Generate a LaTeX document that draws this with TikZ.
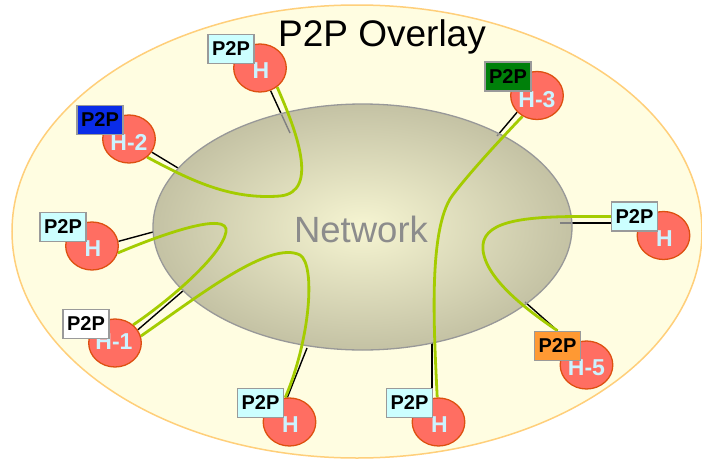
\documentclass[tikz,border=0pt]{standalone}
\usepackage{fontspec}
\setmainfont{Liberation Sans}
\usetikzlibrary{shapes.geometric,calc}
\definecolor{outerfill}{HTML}{FFFDE1}
\definecolor{outerline}{HTML}{FFCF7A}
\definecolor{netin}{HTML}{F6F5D2}
\definecolor{netout}{HTML}{C4C2A4}
\definecolor{netline}{HTML}{989898}
\definecolor{nettext}{HTML}{8C8C8C}
\definecolor{netgreen}{HTML}{A4CC00}
\definecolor{hostfill}{HTML}{FF6E62}
\definecolor{hostline}{HTML}{DD5010}
\definecolor{hosttext}{HTML}{CCF3FF}
\definecolor{boxcyan}{HTML}{CCFFFF}
\definecolor{boxblue}{HTML}{0A2CE8}
\definecolor{boxgreen}{HTML}{00800A}
\definecolor{boxorange}{HTML}{FF9933}
\definecolor{boxline}{HTML}{9A9A9A}
\pgfdeclarelayer{bg}
\pgfdeclarelayer{wires}
\pgfdeclarelayer{net}
\pgfdeclarelayer{links}
\pgfsetlayers{bg,wires,net,links,main}
\tikzset{
  host/.style={ellipse, draw=hostline, line width=1.3pt, fill=hostfill,
    minimum width=52.6pt, minimum height=48pt, inner sep=0pt},
  hlabel/.style={text=hosttext, font=\bfseries\fontsize{23}{25}\selectfont, inner sep=0pt},
  pbox/.style={draw=boxline, line width=1.5pt, minimum width=46pt,
    minimum height=29pt, inner sep=0pt, font=\bfseries\fontsize{20}{22}\selectfont},
  wire/.style={line width=1.4pt, black},
  innerwire/.style={line width=1.4pt, gray},
  link/.style={line width=2.8pt, netgreen}
}
\begin{document}
\begin{tikzpicture}[x=1pt,y=-1pt]
\useasboundingbox (0,0) rectangle (702,461);
\begin{pgfonlayer}{bg}
\fill[white] (0,0) rectangle (702,461);
\draw[fill=outerfill, draw=outerline, line width=1.5pt] (357,231.5) ellipse [x radius=345, y radius=226.5];
\end{pgfonlayer}
\node[font=\fontsize{37}{40}\selectfont, anchor=base] (title) at (382,46) {P2P Overlay};
% hosts
\node[host] (hT) at (260,68) {};
\node[host] (h2) at (129,139) {};
\node[host] (h3) at (537,95.5) {};
\node[host] (hL) at (92,246) {};
\node[host] (h1) at (115,343) {};
\node[host] (hR) at (663.5,235.5) {};
\node[host] (h5) at (586.5,365) {};
\node[host] (hBL) at (289.5,422) {};
\node[host] (hBR) at (438.5,422) {};
\node[hlabel] (lT) at ($(hT)+(1,3)$) {H};
\node[hlabel] (l2) at ($(h2)+(0,3)$) {H-2};
\node[hlabel] (l3) at ($(h3)+(0,4)$) {H-3};
\node[hlabel] (lL) at ($(hL)+(1,3)$) {H};
\node[hlabel] (l1) at ($(h1)+(-1,-1)$) {H-1};
\node[hlabel] (lR) at ($(hR)+(1,3)$) {H};
\node[hlabel] (l5) at ($(h5)+(0,3)$) {H-5};
\node[hlabel] (lBL) at ($(hBL)+(1,3)$) {H};
\node[hlabel] (lBR) at ($(hBR)+(1,3)$) {H};
% P2P boxes
\node[pbox, fill=boxcyan] (bT) at (231,49) {P2P};
\node[pbox, fill=boxblue] (b2) at (100,120) {P2P};
\node[pbox, fill=boxgreen] (b3) at (508,76.5) {P2P};
\node[pbox, fill=boxcyan] (bL) at (63,227) {P2P};
\node[pbox, fill=white] (b1) at (86,324) {P2P};
\node[pbox, fill=boxcyan] (bR) at (634.5,216.5) {P2P};
\node[pbox, fill=boxorange] (b5) at (557.5,346) {P2P};
\node[pbox, fill=boxcyan] (bBL) at (260.5,403) {P2P};
\node[pbox, fill=boxcyan] (bBR) at (409.5,403) {P2P};
% network end points
\coordinate (nT) at (290,133);
\coordinate (n2) at (178,168);
\coordinate (n3) at (497,136);
\coordinate (nL) at (153,232);
\coordinate (n1) at (184,290);
\coordinate (nR) at (560,223);
\coordinate (n5) at (525,302);
\coordinate (nBL) at (307,348);
\coordinate (nBR) at (432,343);
\begin{pgfonlayer}{wires}
\draw[wire] (hT.-65) -- (nT);
\draw[wire] (h2.-30) -- (n2);
\draw[wire] (h3.-140) -- (n3);
\draw[wire] (hL.10) -- (nL);
\draw[wire] (h1.30) -- (n1);
\draw[wire] (nR -| bR.west) -- (nR);
\draw[wire] (b5.north) -- (n5);
\draw[wire] (hBL.95) -- (nBL);
\draw[wire] (nBR |- bBR.north) -- (nBR);
\end{pgfonlayer}
\begin{pgfonlayer}{net}
\shade[inner color=netin, outer color=netout] (362.5,227) ellipse [x radius=209.5, y radius=123];
\draw[netline, line width=1.3pt] (362.5,227) ellipse [x radius=209.5, y radius=123];
\begin{scope}
\clip (362.5,227) ellipse [x radius=208.5, y radius=122];
\draw[innerwire] (hT.-65) -- (nT);
\draw[innerwire] (nR -| bR.west) -- (nR);
\draw[innerwire] (h2.-30) -- (n2);
\draw[innerwire] (h3.-140) -- (n3);
\draw[innerwire] (hL.10) -- (nL);
\draw[innerwire] (h1.30) -- (n1);
\draw[innerwire] (b5.north) -- (n5);
\draw[innerwire] (hBL.95) -- (nBL);
\draw[innerwire] (nBR |- bBR.north) -- (nBR);
\end{scope}
\node[font=\fontsize{36.5}{40}\selectfont, text=nettext] (net) at (361,229) {Network};
\end{pgfonlayer}
\begin{pgfonlayer}{links}
\draw[link] (hT.-48) .. controls (296,130) and (320,192) .. (280,196) .. controls (230,200) and (190,180) .. (h2.-45);
\draw[link] (hL.-15) .. controls (160,235) and (230,210) .. (226,232) .. controls (222,255) and (170,300) .. (h1.45);
\draw[link] (h1.15) .. controls (200,295) and (270,240) .. (300,255) .. controls (316,265) and (310,340) .. (hBL.100);
\draw[link] (hBR.93) .. controls (434,330) and (428,230) .. (452,196) .. controls (470,172) and (500,140) .. (h3.-125);
\draw[link] (bR.west) -- (575,216.5) .. controls (520,217) and (480,222) .. (483,250) .. controls (486,280) and (530,312) .. (b5.north);
\end{pgfonlayer}
\end{tikzpicture}
\end{document}
